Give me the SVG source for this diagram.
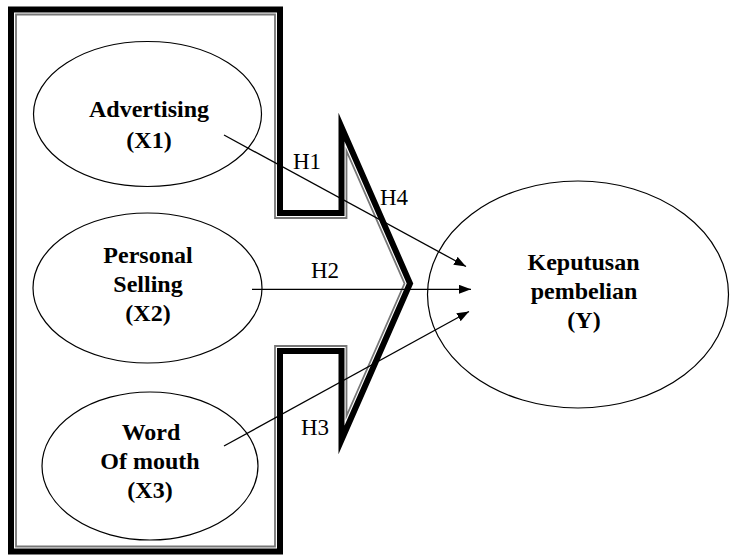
<svg xmlns="http://www.w3.org/2000/svg" width="731" height="556" viewBox="0 0 731 556">
  <style>
    .node ellipse { fill: none; stroke: #000; stroke-width: 1.2; }
    .lbl { font-family: "Liberation Serif", "Times New Roman", serif; font-weight: bold; font-size: 24px; fill: #000; text-anchor: middle; }
    .hl { font-family: "Liberation Serif", "Times New Roman", serif; font-size: 23px; fill: #000; }
    .conn line { stroke: #000; stroke-width: 1.3; marker-end: url(#arr); }
  </style>
  <defs>
    <marker id="arr" markerUnits="userSpaceOnUse" markerWidth="13" markerHeight="10" refX="12" refY="4.5" orient="auto">
      <path d="M0,0 L12,4.5 L0,9 z" fill="#000"/>
    </marker>
  </defs>
  <rect width="731" height="556" fill="#fff"/>

  <g id="frame">
    <path d="M11,9.5 L280,9.5 L280,213 L341.5,213 L341.5,127 L410,283.5 L341.5,440 L341.5,351 L280,351 L280,551.5 L11,551.5 Z" fill="none" stroke="#000" stroke-width="6" stroke-linejoin="miter" stroke-miterlimit="10"/>
    <path d="M16,14.5 L275,14.5 L275,218 L346.5,218 L346.5,151 L404.5,283.5 L346.5,416 L346.5,346 L275,346 L275,546.5 L16,546.5 Z" fill="none" stroke="#777" stroke-width="1.8" stroke-miterlimit="10"/>
  </g>

  <g id="advertising" class="node">
    <ellipse cx="147.5" cy="114" rx="114" ry="72.5"/>
    <text class="lbl" x="149" y="117">Advertising</text>
    <text class="lbl" x="149" y="148">(X1)</text>
  </g>

  <g id="personal-selling" class="node">
    <ellipse cx="147.5" cy="288" rx="114.5" ry="75"/>
    <text class="lbl" x="148" y="263">Personal</text>
    <text class="lbl" x="148" y="292">Selling</text>
    <text class="lbl" x="148" y="321">(X2)</text>
  </g>

  <g id="word-of-mouth" class="node">
    <ellipse cx="150" cy="466" rx="108" ry="74"/>
    <text class="lbl" x="151" y="440">Word</text>
    <text class="lbl" x="150" y="469">Of mouth</text>
    <text class="lbl" x="150" y="498">(X3)</text>
  </g>

  <g id="keputusan" class="node">
    <ellipse cx="578" cy="294.5" rx="150.5" ry="113.5"/>
    <text class="lbl" x="583.5" y="270">Keputusan</text>
    <text class="lbl" x="584" y="299">pembelian</text>
    <text class="lbl" x="584" y="328">(Y)</text>
  </g>

  <g id="connectors" class="conn">
    <line x1="224" y1="135" x2="466" y2="266.5"/>
    <line x1="252" y1="289.3" x2="471" y2="289.3"/>
    <line x1="224" y1="446" x2="469" y2="311.5"/>
  </g>

  <g id="labels">
    <text class="hl" x="293" y="169">H1</text>
    <text class="hl" x="380" y="205">H4</text>
    <text class="hl" x="311" y="278">H2</text>
    <text class="hl" x="301" y="435">H3</text>
  </g>
</svg>
